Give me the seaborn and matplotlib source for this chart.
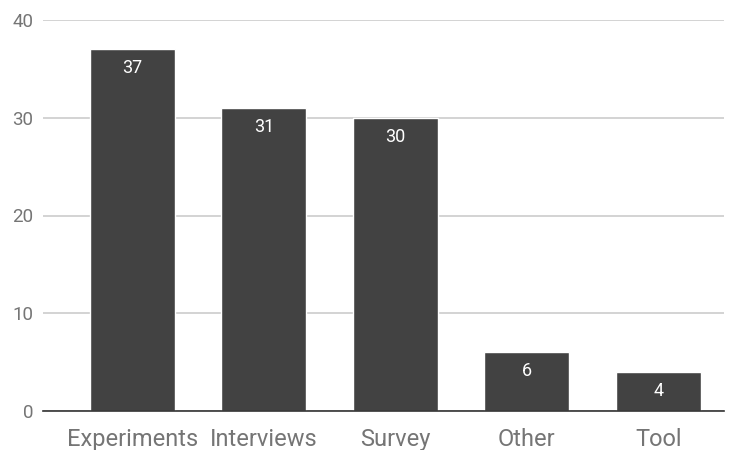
import matplotlib
matplotlib.use("Agg")
import matplotlib.pyplot as plt
import seaborn as sns
import pandas as pd

categories = ["Experiments", "Interviews", "Survey", "Other", "Tool"]
counts = [37, 31, 30, 6, 4]
y_ticks = [0, 10, 20, 30, 40]

sns.set_theme(style="white")
plt.rcParams["font.family"] = ["Roboto", "DejaVu Sans"]

df = pd.DataFrame({"method": categories, "count": counts})

fig = plt.figure(figsize=(7.36, 4.5), dpi=100)
ax = fig.add_axes([43 / 736, 39 / 450, (724 - 43) / 736, (411 - 20) / 450])

sns.barplot(data=df, x="method", y="count", color="#424242", saturation=1,
            width=0.646, ax=ax, zorder=3)

ax.set_xlim(-0.68, 4.5)
ax.set_ylim(0, 40)
ax.set_yticks(y_ticks)
ax.yaxis.grid(True, color="#cccccc", linewidth=1.2, zorder=0)
ax.set_axisbelow(True)
for s in ["top", "right", "left"]:
    ax.spines[s].set_visible(False)
ax.spines["bottom"].set_color("#333333")
ax.spines["bottom"].set_linewidth(1.2)
ax.spines["bottom"].set_zorder(4)
ax.tick_params(axis="y", length=0, pad=7, labelsize=13.5, labelcolor="#757575")
ax.tick_params(axis="x", length=0, pad=12, labelsize=17, labelcolor="#757575")
ax.set_xlabel("")
ax.set_ylabel("")

for i, v in enumerate(counts):
    ax.annotate(str(v), (i, v), xytext=(0, -19), textcoords="offset pixels",
                ha="center", va="center", color="white", fontsize=13, zorder=5)

fig.savefig("out.png", dpi=100)
